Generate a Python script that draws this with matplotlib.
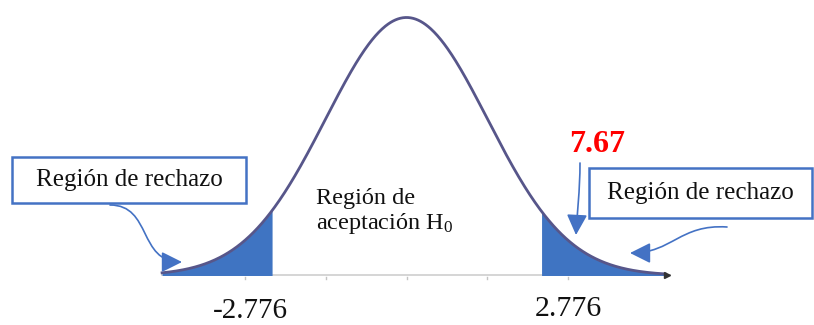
#!/usr/bin/env python3
"""
Two-tailed t test sketch: acceptance / rejection regions.
"""

import numpy as np
import matplotlib
matplotlib.use("Agg")
import matplotlib.pyplot as plt
from matplotlib.patches import Rectangle, FancyArrowPatch
from matplotlib.path import Path

plt.rcParams.update({
    'font.family': 'serif',
    'font.serif': ['Liberation Serif', 'DejaVu Serif'],
    'mathtext.fontset': 'custom',
    'mathtext.rm': 'Liberation Serif',
    'mathtext.it': 'Liberation Serif:italic',
})

# values
CRITICAL = [-2.776, 2.776]
T_STAT = 7.67
CURVE_RANGE = [-5.05, 5.34]
SIGMA = 1.672           # spread of the drawn bell (in t units)
TICK_STEPS = [-2, -1, 0, 1, 2]
REJECT_LABEL = 'Región de rechazo'
ACCEPT_LABEL = 'Región de\naceptación H$_0$'

W, H = 814, 325
BLUE = '#4472c4'
FILL = '#3f74c2'
CURVE = '#57568a'


def fp(x, y):
    """top-left pixel position -> figure fraction"""
    return x / W, 1 - y / H


def main():
    fig = plt.figure(figsize=(W / 100, H / 100), dpi=100)
    ax = fig.add_axes([0, 0, 1, 1])
    ax.set_xlim(-8.399, 8.419)
    ax.set_ylim(-0.1919, 1.0678)
    ax.axis('off')

    x = np.linspace(CURVE_RANGE[0], CURVE_RANGE[1], 600)
    y = np.exp(-0.5 * (x / SIGMA) ** 2)

    # base line
    ax.plot([CURVE_RANGE[0], CURVE_RANGE[1] + 0.1], [0, 0], color='#d2d2d2', lw=1.3, zorder=1)
    ax.plot([CURVE_RANGE[1] + 0.05], [0], marker='>', ms=4, color='#333333', zorder=4)
    for k in TICK_STEPS:
        ax.plot([k * SIGMA, k * SIGMA], [-0.004, -0.014], color='#c4c4c4', lw=1, zorder=1)

    # rejection tails
    left = x <= CRITICAL[0]
    right = x >= CRITICAL[1]
    ax.fill_between(x[left], 0, y[left], color=FILL, lw=0, zorder=2)
    ax.fill_between(x[right], 0, y[right], color=FILL, lw=0, zorder=2)
    ax.plot(x, y, color=CURVE, lw=2, zorder=3)

    # critical values (baseline placed just above the bottom edge)
    ax.text(CRITICAL[0] - 0.457, -(318 - 275.5) / 258, f'{CRITICAL[0]:.3f}', ha='center',
            va='baseline', fontsize=21, color='#111111')
    ax.text(CRITICAL[1] + 0.561, -(316 - 275.5) / 258, f'{CRITICAL[1]:.3f}', ha='center',
            va='baseline', fontsize=21.5, color='#111111')

    # acceptance region label
    fig.text(*fp(316, 212), ACCEPT_LABEL, ha='left', va='center', fontsize=17.5,
             linespacing=1.12, color='#111111')

    # rejection region boxes
    for (x0, y0, x1, y1) in [(12, 157, 246, 203), (589, 168, 812, 218)]:
        bx, by = fp(x0, y1)
        fig.patches.append(Rectangle((bx, by), (x1 - x0) / W, (y1 - y0) / H,
                                     transform=fig.transFigure, fill=False,
                                     edgecolor=BLUE, lw=1.8))
        fig.text(*fp((x0 + x1) / 2, (y0 + y1) / 2), REJECT_LABEL, ha='center',
                 va='center', fontsize=18, color='#111111')

    # statistic
    fig.text(*fp(597, 144), f'{T_STAT:.2f}', ha='center', va='center', fontsize=23,
             fontweight='bold', color='#ff0000')

    # arrows
    head = '-|>,head_length=0.9,head_width=0.45'
    curves = [
        [(110, 205), (152, 205), (138, 262), (182, 262)],
        [(727, 227), (680, 224), (672, 253), (630, 253)],
        [(580, 163), (580, 190), (577, 215), (576, 235)],
    ]
    codes = [Path.MOVETO, Path.CURVE4, Path.CURVE4, Path.CURVE4]
    for pts in curves:
        verts = [fp(px, py) for px, py in pts]
        arr = FancyArrowPatch(path=Path(verts, codes), transform=fig.transFigure,
                              arrowstyle=head, mutation_scale=14,
                              color=BLUE, lw=1.2, shrinkA=0, shrinkB=0)
        fig.patches.append(arr)

    fig.savefig('out.png', dpi=100)
    plt.close(fig)


if __name__ == '__main__':
    main()
